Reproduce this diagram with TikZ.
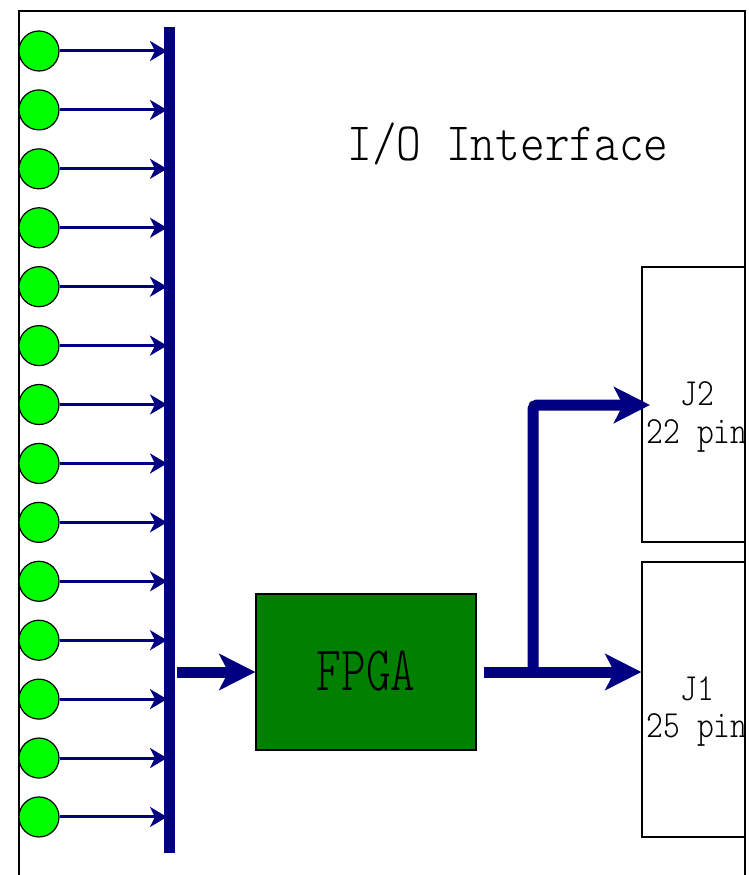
\documentclass[tikz,border=0pt]{standalone}
\usetikzlibrary{arrows.meta}
\definecolor{navyc}{RGB}{0,0,128}
\definecolor{ledgreen}{RGB}{0,255,0}
\definecolor{fpgagreen}{RGB}{0,128,0}
\newcommand{\lighttt}{\ttfamily\fontseries{l}\selectfont}
\begin{document}
\begin{tikzpicture}[x=1pt,y=-1pt,
  led/.style={circle,draw=black,line width=1.2pt,fill=ledgreen,minimum size=40pt,inner sep=0pt},
  sig/.style={draw=navyc,line width=3pt,-{Stealth[length=17pt,width=20pt,inset=5pt]}},
  busline/.style={draw=navyc,line width=11pt},
  bus/.style={busline,-{Stealth[length=36pt,width=36pt,inset=9pt]}},
  conn/.style={draw=black,line width=1.3pt,fill=white,minimum width=103pt,minimum height=275pt,inner sep=0pt},
  frame/.style={draw=black,line width=1.3pt},
  jtext/.style={font=\fontsize{32}{34}\selectfont\lighttt,anchor=base,inner sep=0pt}
]
\useasboundingbox (0,0) rectangle (749,875);
% outer frame
\draw[frame] (19,880) -- (19,11) -- (745,11) -- (745,880);
% title
\node[anchor=base,inner sep=0pt,font=\fontsize{47}{50}\selectfont\lighttt] (title) at (508,160) {\scalebox{1}[1.15]{I/O Interface}};
% bus bar
\coordinate (bartop) at (169,27);
\coordinate (barbot) at (169,853);
\draw[busline] (bartop) -- (barbot);
\coordinate (tipx) at (167,0);
% LEDs
\foreach \i in {1,...,14} {
  \node[led] (l\i) at (39,{51+58.92*(\i-1)}) {};
  \draw[sig] (l\i.east) -- (l\i.east -| tipx);
}
% FPGA
\node[draw=black,line width=1.3pt,fill=fpgagreen,minimum width=220pt,minimum height=156pt,inner sep=0pt] (fpga) at (366,672) {};
\node[inner sep=0pt,font=\fontsize{47}{50}\selectfont\lighttt] (fpgatxt) at (366,671) {\scalebox{1}[1.35]{FPGA}};
\coordinate (busout) at (177,672);
\draw[bus] (busout) -- (fpga.west);
% connectors
\node[conn] (j2) at (693.5,404.5) {};
\node[conn] (j1) at (693.5,699.5) {};
\begin{scope}
\clip (j2.north west) rectangle (j2.south east);
\node[jtext] (j2a) at (697,405) {\scalebox{1}[1.2]{J2}};
\node[jtext] (j2b) at (697,443) {\scalebox{1}[1.2]{22 pin}};
\end{scope}
\begin{scope}
\clip (j1.north west) rectangle (j1.south east);
\node[jtext] (j1a) at (697,700) {\scalebox{1}[1.2]{J1}};
\node[jtext] (j1b) at (697,737) {\scalebox{1}[1.2]{25 pin}};
\end{scope}
% outputs
\coordinate (fout) at (484,672);
\coordinate (branch) at (533,672);
\coordinate (j2in) at (650,405);
\draw[bus] (fout) -- (fout -| j1.west);
\draw[bus,rounded corners=4pt] (branch) |- (j2in);
\end{tikzpicture}
\end{document}
